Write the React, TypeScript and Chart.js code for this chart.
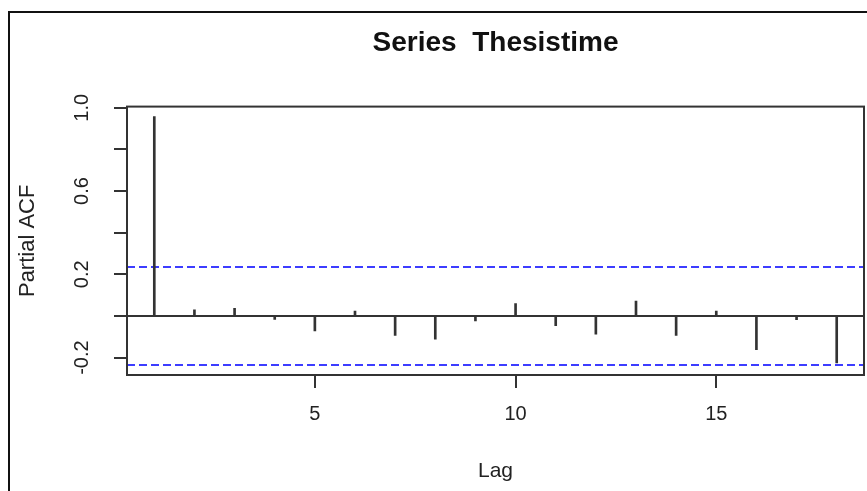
import React, { useEffect, useRef } from 'react';
import { Chart, registerables } from 'chart.js';

Chart.register(...registerables);

// ---- data ----
const lags = [1, 2, 3, 4, 5, 6, 7, 8, 9, 10, 11, 12, 13, 14, 15, 16, 17, 18];
const pacfValues = [
  0.958, 0.029, 0.037, -0.016, -0.072, 0.024, -0.093, -0.112, -0.024,
  0.059, -0.047, -0.087, 0.072, -0.093, 0.024, -0.162, -0.018, -0.225,
];
const ciLevel = 0.2357;
const xTicks = [5, 10, 15];
const yTicks = [-0.2, 0, 0.2, 0.4, 0.6, 0.8, 1.0];
const yTickLabels = ['-0.2', '', '0.2', '', '0.6', '', '1.0'];
const xRange = [0.32, 18.68];
const yRange = [-0.2835, 1.0055];

const FONT = "'Liberation Sans', Arial, sans-serif";
const INK = '#222222';
const LINE = '#333333';

const boxPlugin = {
  id: 'plotBox',
  afterDraw(chart: any) {
    const { ctx, chartArea } = chart;
    ctx.save();
    ctx.strokeStyle = LINE;
    ctx.lineWidth = 2;
    ctx.strokeRect(chartArea.left, chartArea.top, chartArea.right - chartArea.left, chartArea.bottom - chartArea.top);
    ctx.restore();
  },
};

export default function App() {
  const canvasRef = useRef<HTMLCanvasElement | null>(null);

  useEffect(() => {
    if (!canvasRef.current) return;
    const chart = new Chart(canvasRef.current, {
      type: 'bar',
      data: {
        datasets: [
          {
            type: 'bar',
            label: 'PACF',
            data: lags.map((l, i) => ({ x: l, y: pacfValues[i] })),
            backgroundColor: LINE,
            borderWidth: 0,
            barThickness: 2,
          } as any,
          {
            type: 'line',
            label: 'zero',
            data: [{ x: xRange[0], y: 0 }, { x: xRange[1], y: 0 }],
            borderColor: LINE,
            borderWidth: 2,
            pointRadius: 0,
          } as any,
          {
            type: 'line',
            label: 'upper',
            data: [{ x: xRange[0], y: ciLevel }, { x: xRange[1], y: ciLevel }],
            borderColor: '#3d3dff',
            borderWidth: 2,
            borderDash: [8, 4],
            pointRadius: 0,
          } as any,
          {
            type: 'line',
            label: 'lower',
            data: [{ x: xRange[0], y: -ciLevel }, { x: xRange[1], y: -ciLevel }],
            borderColor: '#3d3dff',
            borderWidth: 2,
            borderDash: [8, 4],
            pointRadius: 0,
          } as any,
        ],
      },
      options: {
        animation: false,
        responsive: false,
        layout: { padding: { left: 0, right: 3, top: 0, bottom: 0 } },
        plugins: {
          legend: { display: false },
          tooltip: { enabled: false },
          title: {
            display: true,
            text: 'Series  Thesistime',
            fullSize: false,
            color: '#111111',
            font: { family: FONT, size: 28, weight: 'bold' },
            padding: { top: 26, bottom: 47 },
          },
        },
        scales: {
          x: {
            type: 'linear',
            min: xRange[0],
            max: xRange[1],
            bounds: 'data',
            offset: false,
            grid: {
              display: true,
              offset: false,
              drawOnChartArea: false,
              drawTicks: true,
              tickLength: 13,
              color: LINE,
              lineWidth: 2,
            },
            border: { display: false },
            ticks: {
              autoSkip: false,
              padding: 14,
              color: INK,
              font: { family: FONT, size: 20 },
              callback: (v: any) => String(v),
            },
            title: {
              display: true,
              text: 'Lag',
              color: INK,
              font: { family: FONT, size: 21 },
              padding: { top: 0, bottom: 7 },
            },
            afterBuildTicks: (scale: any) => {
              scale.ticks = xTicks.map((v) => ({ value: v }));
            },
            afterFit: (scale: any) => {
              scale.height = 116;
            },
          },
          y: {
            type: 'linear',
            min: yRange[0],
            max: yRange[1],
            bounds: 'data',
            grid: {
              display: true,
              drawOnChartArea: false,
              drawTicks: true,
              tickLength: 13,
              color: LINE,
              lineWidth: 2,
            },
            border: { display: false },
            ticks: {
              autoSkip: false,
              minRotation: 90,
              maxRotation: 90,
              crossAlign: 'center',
              padding: 14,
              color: INK,
              font: { family: FONT, size: 20 },
              callback: (_v: any, i: number) => yTickLabels[i],
            },
            title: {
              display: true,
              text: 'Partial ACF',
              color: INK,
              font: { family: FONT, size: 22 },
              padding: { top: 15, bottom: 0 },
            },
            afterBuildTicks: (scale: any) => {
              scale.ticks = yTicks.map((v) => ({ value: v }));
            },
            afterFit: (scale: any) => {
              scale.width = 127;
            },
          },
        },
      } as any,
      plugins: [boxPlugin],
    });
    return () => chart.destroy();
  }, []);

  return (
    <div
      style={{
        position: 'fixed',
        left: 0,
        top: 0,
        width: 867,
        height: 491,
        overflow: 'hidden',
        background: '#ffffff',
      }}
    >
      <canvas ref={canvasRef} width={867} height={491} style={{ display: 'block', width: 867, height: 491 }} />
      <div
        style={{
          position: 'absolute',
          left: 8,
          top: 11,
          width: 900,
          height: 520,
          borderLeft: '2px solid #111111',
          borderTop: '2px solid #111111',
          pointerEvents: 'none',
        }}
      />
    </div>
  );
}
